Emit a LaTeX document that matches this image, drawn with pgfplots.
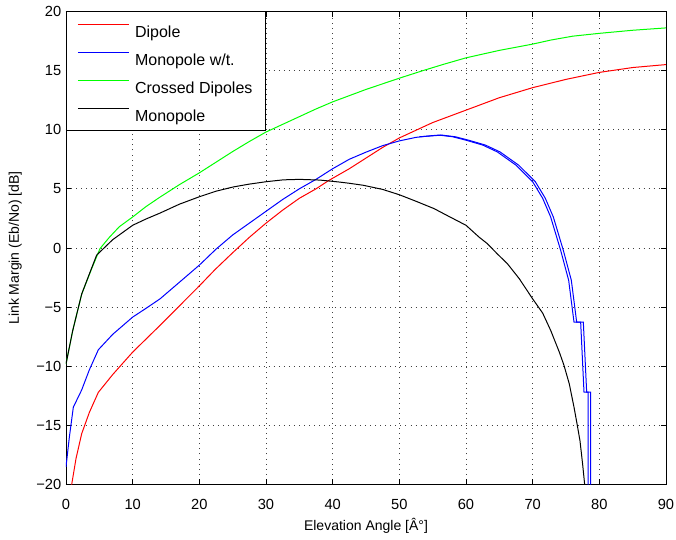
\documentclass[border=0pt]{standalone}
\usepackage{fontspec}
\setmainfont{Liberation Sans}
\usepackage{pgfplots}
\pgfplotsset{compat=1.18}
\begin{document}
\begin{tikzpicture}
\begin{axis}[
  at={(0,0)}, anchor=south west,
  scale only axis, width=450pt, height=355pt,
  xmin=0, xmax=90, ymin=-20, ymax=20,
  xtick={0,10,...,90}, ytick={-20,-15,...,20},
  yticklabels={−20,−15,−10,−5,0,5,10,15,20},
  grid=major,
  major grid style={black!75, dash pattern=on 0.6pt off 3.2pt, line width=0.5pt},
  tick align=inside, major tick length=4pt,
  tick style={black, line width=0.5pt},
  axis line style={black, line width=0.6pt},
  /pgf/number format/assume math mode=true,
  tick label style={font=\fontsize{11}{13}\selectfont},
  xticklabel style={yshift=-7.5pt},
  xlabel={Elevation Angle [Â°]},
  ylabel={Link Margin (Eb/No) [dB]},
  label style={font=\fontsize{10.5}{12}\selectfont},
  xlabel style={at={(axis description cs:0.5,-0.087)}, anchor=center},
  ylabel style={at={(axis description cs:-0.0845,0.5)}, anchor=center},
  legend cell align=left,
  legend image code/.code={\draw[#1, line width=0.75pt] (0pt,3.5pt) -- (38pt,3.5pt);},
  legend style={at={(0,1)}, anchor=north west, draw=black, line width=0.6pt,
    fill=white,
    font=\fontsize{12}{14}\selectfont, inner xsep=8.25pt, inner ysep=5.5pt,
    row sep=6pt, column sep=3pt,
    nodes={inner sep=1.5pt, text height=12pt, text depth=0pt}},
]
\addplot[red, line width=0.75pt] coordinates {
(0.85,-20)(1.5,-17.8)(2.35,-15.7)(3.5,-13.9)(4.85,-12.2)(7,-10.7)(10,-8.8)
(14.1,-6.54)(17,-4.9)(20,-3.2)(22.4,-1.8)(25,-0.4)(27.5,0.9)(30,2.1)(32.5,3.2)
(35,4.2)(37.5,5.0)(39.4,5.7)(42.5,6.7)(45,7.6)(47.5,8.5)(50,9.3)(55,10.6)
(60,11.65)(65,12.7)(70,13.55)(75,14.25)(80,14.84)(85,15.25)(90,15.5)};
\addlegendentry{Dipole}
\addplot[blue, line width=0.75pt] coordinates {
(0,-18.5)(0.5,-16)(1.1,-13.45)(2.35,-12.0)(3.5,-10.3)(4.85,-8.6)(7,-7.3)(10,-5.84)
(12,-5.1)(14.1,-4.3)(17,-2.9)(20,-1.45)(22.5,-0.1)(25,1.1)(27.5,2.1)(30,3.1)
(32.5,4.1)(35,5.0)(37.5,5.8)(40,6.7)(42.5,7.5)(45,8.1)(47.5,8.65)(50,9.05)
(52.5,9.35)(55,9.5)(56,9.54)(58,9.4)(60,9.11)(62.5,8.7)(64.7,8.12)
(67.5,7.0)(70,5.6)(71.5,4.2)(72.7,2.62)(74.2,-0.2)(75.4,-2.73)(76.2,-6.26)
(77.2,-6.26)(77.7,-12.18)(78.3,-12.18)(78.3,-20)};
\addlegendentry{Monopole w/t.}
\addplot[green, line width=0.75pt] coordinates {
(0,-9.8)(1,-7.0)(2.35,-3.9)(3.85,-1.75)(5.1,-0.05)(6.5,0.9)(8,1.8)(10,2.62)
(12,3.5)(14.1,4.3)(17,5.35)(20,6.35)(22.5,7.25)(25,8.15)(27.5,9.0)(30,9.8)
(32.5,10.45)(35,11.1)(37.5,11.75)(40,12.35)(45,13.4)(50,14.35)(53.6,15.0)
(56.5,15.5)(60,16.07)(65,16.7)(70,17.23)(72.7,17.57)(76,17.9)(80,18.14)
(85,18.4)(90,18.6)};
\addlegendentry{Crossed Dipoles}
\addplot[black, line width=0.75pt] coordinates {
(0,-9.8)(1,-7.0)(2.35,-3.9)(3.5,-2.2)(4.6,-0.6)(7,0.7)(10,1.92)(12,2.45)
(14.1,2.95)(17,3.7)(20,4.33)(22.5,4.8)(25.1,5.16)(27.5,5.4)(30,5.6)(32.6,5.76)
(35,5.8)(38.1,5.74)(40.9,5.58)(42.5,5.47)(44.6,5.3)(47.5,4.95)(50,4.5)(52.5,3.95)
(55.2,3.33)(57.5,2.65)(60,1.92)(62,0.9)(63.2,0.37)(64.7,-0.5)(66.2,-1.32)
(68,-2.6)(70,-4.3)(71.5,-5.5)(72.7,-6.96)(74,-8.8)(74.7,-9.92)(75.5,-11.5)
(76.2,-13.45)(76.7,-15)(77.1,-16.3)(77.5,-18.3)(77.8,-20)};
\addlegendentry{Monopole}
\addplot[blue, line width=0.75pt, forget plot] coordinates {
(53,9.4)(56.4,9.54)(58.4,9.4)(60.4,9.11)(62.9,8.7)(65.1,8.12)
(67.9,7.0)(70.4,5.6)(71.9,4.2)(73.1,2.62)(74.6,-0.2)(75.8,-2.73)(76.6,-6.26)
(77.6,-6.26)(78.1,-12.18)(78.7,-12.18)(78.7,-20)};
\end{axis}
\pgfresetboundingbox
\path[use as bounding box] (-49.5pt,-41.25pt) rectangle (457.5pt,363.5pt);
\end{tikzpicture}
\end{document}
